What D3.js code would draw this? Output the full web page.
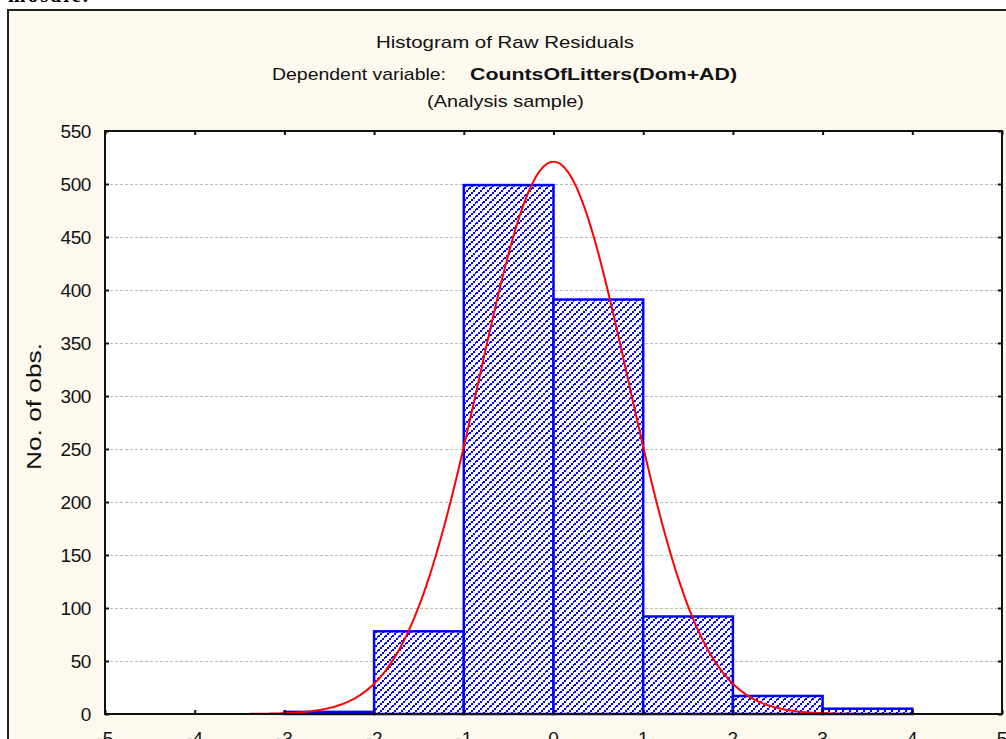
<!DOCTYPE html>
<html>
<head>
<meta charset="utf-8">
<script src="https://cdn.jsdelivr.net/npm/d3@7"></script>
<style>
body { margin: 0; background: #fff; }
svg { display: block; font-family: "Liberation Sans", Arial, sans-serif; }
</style>
</head>
<body>
<svg width="1006" height="739"></svg>
<script>
// histogram bins (lower edge, upper edge, count)
var binStart = [-3, -2, -1, 0, 1, 2, 3];
var binEnd = [-2, -1, 0, 1, 2, 3, 4];
var counts = [2, 78, 499, 391, 92, 17, 5];
var xTicks = [-5, -4, -3, -2, -1, 0, 1, 2, 3, 4, 5];
var yTicks = [0, 50, 100, 150, 200, 250, 300, 350, 400, 450, 500, 550];
// fitted normal: mean, sd, total n
var fitMean = 0;
var fitSd = 0.83;
var fitN = 1084;

var svg = d3.select('svg');
var pLeft = 105, pRight = 1002, pTop = 131, pBottom = 714;

var x = d3.scaleLinear().domain([-5, 5]).range([pLeft, pRight]);
var y = d3.scaleLinear().domain([0, 550]).range([pBottom, pTop]);

// leftover text from page above
svg.append('text')
  .attr('x', 8).attr('y', 2)
  .attr('font-family', 'Liberation Serif, serif')
  .attr('font-weight', 'bold')
  .attr('font-size', 21)
  .attr('textLength', 80)
  .text('mosaic.');

// outer frame
svg.append('rect')
  .attr('x', 8).attr('y', 10)
  .attr('width', 1010).attr('height', 760)
  .attr('fill', '#fdf9ee')
  .attr('stroke', '#222')
  .attr('stroke-width', 2);

// titles
var t = svg.append('g').attr('fill', '#111').attr('font-size', 17);
t.append('text').attr('x', 376).attr('y', 48).attr('textLength', 258).attr('lengthAdjust', 'spacingAndGlyphs').text('Histogram of Raw Residuals');
t.append('text').attr('x', 272).attr('y', 80).attr('textLength', 174).attr('lengthAdjust', 'spacingAndGlyphs').text('Dependent variable:');
t.append('text').attr('x', 470).attr('y', 80).attr('font-weight', 'bold').attr('textLength', 267).attr('lengthAdjust', 'spacingAndGlyphs').text('CountsOfLitters(Dom+AD)');
t.append('text').attr('x', 427).attr('y', 107).attr('textLength', 157).attr('lengthAdjust', 'spacingAndGlyphs').text('(Analysis sample)');

// hatch pattern: stair-step diagonal lines
var defs = svg.append('defs');
var pat = defs.append('pattern')
  .attr('id', 'hatch')
  .attr('patternUnits', 'userSpaceOnUse')
  .attr('width', 7).attr('height', 7);
pat.append('rect').attr('width', 7).attr('height', 7).attr('fill', '#fff');
[[0, 5], [2, 3], [4, 1], [6, -1], [6, 6]].forEach(function(p) {
  pat.append('rect').attr('x', p[0]).attr('y', p[1]).attr('width', 2).attr('height', 2).attr('fill', '#0000ff');
});

defs.append('clipPath').attr('id', 'plotclip')
  .append('rect').attr('x', pLeft).attr('y', pTop).attr('width', pRight - pLeft).attr('height', pBottom - pTop);

// plot area
svg.append('rect')
  .attr('x', pLeft).attr('y', pTop)
  .attr('width', pRight - pLeft).attr('height', pBottom - pTop)
  .attr('fill', '#fff');

// gridlines
svg.append('g').selectAll('line')
  .data(yTicks.filter(function(d) { return d > 0 && d < 550; }))
  .enter().append('line')
  .attr('x1', pLeft).attr('x2', pRight)
  .attr('y1', function(d) { return y(d) + 0.5; })
  .attr('y2', function(d) { return y(d) + 0.5; })
  .attr('stroke', '#bbb')
  .attr('stroke-dasharray', '3,2')
  .attr('stroke-width', 1);

// bars
svg.append('g').selectAll('rect')
  .data(counts)
  .enter().append('rect')
  .attr('x', function(d, i) { return x(binStart[i]); })
  .attr('y', function(d) { return y(d); })
  .attr('width', function(d, i) { return x(binEnd[i]) - x(binStart[i]); })
  .attr('height', function(d) { return pBottom - y(d); })
  .attr('fill', 'url(#hatch)')
  .attr('stroke', '#0000ff')
  .attr('stroke-width', 2.5);

// normal curve
var curveX = d3.range(-5, 5.001, 0.02);
var normal = function(v) {
  return fitN / (fitSd * Math.sqrt(2 * Math.PI)) * Math.exp(-Math.pow(v - fitMean, 2) / (2 * fitSd * fitSd));
};
svg.append('path')
  .datum(curveX)
  .attr('clip-path', 'url(#plotclip)')
  .attr('d', d3.line().x(function(d) { return x(d); }).y(function(d) { return y(normal(d)); }))
  .attr('fill', 'none')
  .attr('stroke', '#ff0000')
  .attr('stroke-width', 2);

// ticks on all four sides, pointing inward
var tickStyle = function(g) {
  g.select('.domain').remove();
  g.selectAll('line').attr('stroke', '#111').attr('stroke-width', 2);
};
svg.append('g').attr('transform', 'translate(' + pLeft + ',0)')
  .call(d3.axisRight(y).tickValues(yTicks).tickSize(4).tickFormat(''))
  .call(tickStyle);
svg.append('g').attr('transform', 'translate(' + pRight + ',0)')
  .call(d3.axisLeft(y).tickValues(yTicks).tickSize(4).tickFormat(''))
  .call(tickStyle);
svg.append('g').attr('transform', 'translate(0,' + pTop + ')')
  .call(d3.axisBottom(x).tickValues(xTicks).tickSize(4).tickFormat(''))
  .call(tickStyle);
svg.append('g').attr('transform', 'translate(0,' + pBottom + ')')
  .call(d3.axisTop(x).tickValues(xTicks).tickSize(4).tickFormat(''))
  .call(tickStyle);

// y tick labels
svg.append('g').selectAll('text')
  .data(yTicks)
  .enter().append('text')
  .attr('x', 91)
  .attr('y', function(d) { return y(d) + 7; })
  .attr('text-anchor', 'end')
  .attr('font-size', 19)
  .attr('letter-spacing', -0.4)
  .attr('fill', '#111')
  .text(function(d) { return d; });

// x tick labels
svg.append('g').selectAll('text')
  .data(xTicks)
  .enter().append('text')
  .attr('x', function(d) { return x(d); })
  .attr('y', 745)
  .attr('text-anchor', 'middle')
  .attr('font-size', 19)
  .attr('fill', '#111')
  .text(function(d) { return d; });

// border
svg.append('rect')
  .attr('x', pLeft).attr('y', pTop)
  .attr('width', pRight - pLeft).attr('height', pBottom - pTop)
  .attr('fill', 'none')
  .attr('stroke', '#111')
  .attr('stroke-width', 2);

// y label
svg.append('text')
  .attr('transform', 'translate(41,470) rotate(-90)')
  .attr('font-size', 20)
  .attr('textLength', 127)
  .attr('lengthAdjust', 'spacingAndGlyphs')
  .attr('fill', '#111')
  .text('No. of obs.');
</script>
</body>
</html>
